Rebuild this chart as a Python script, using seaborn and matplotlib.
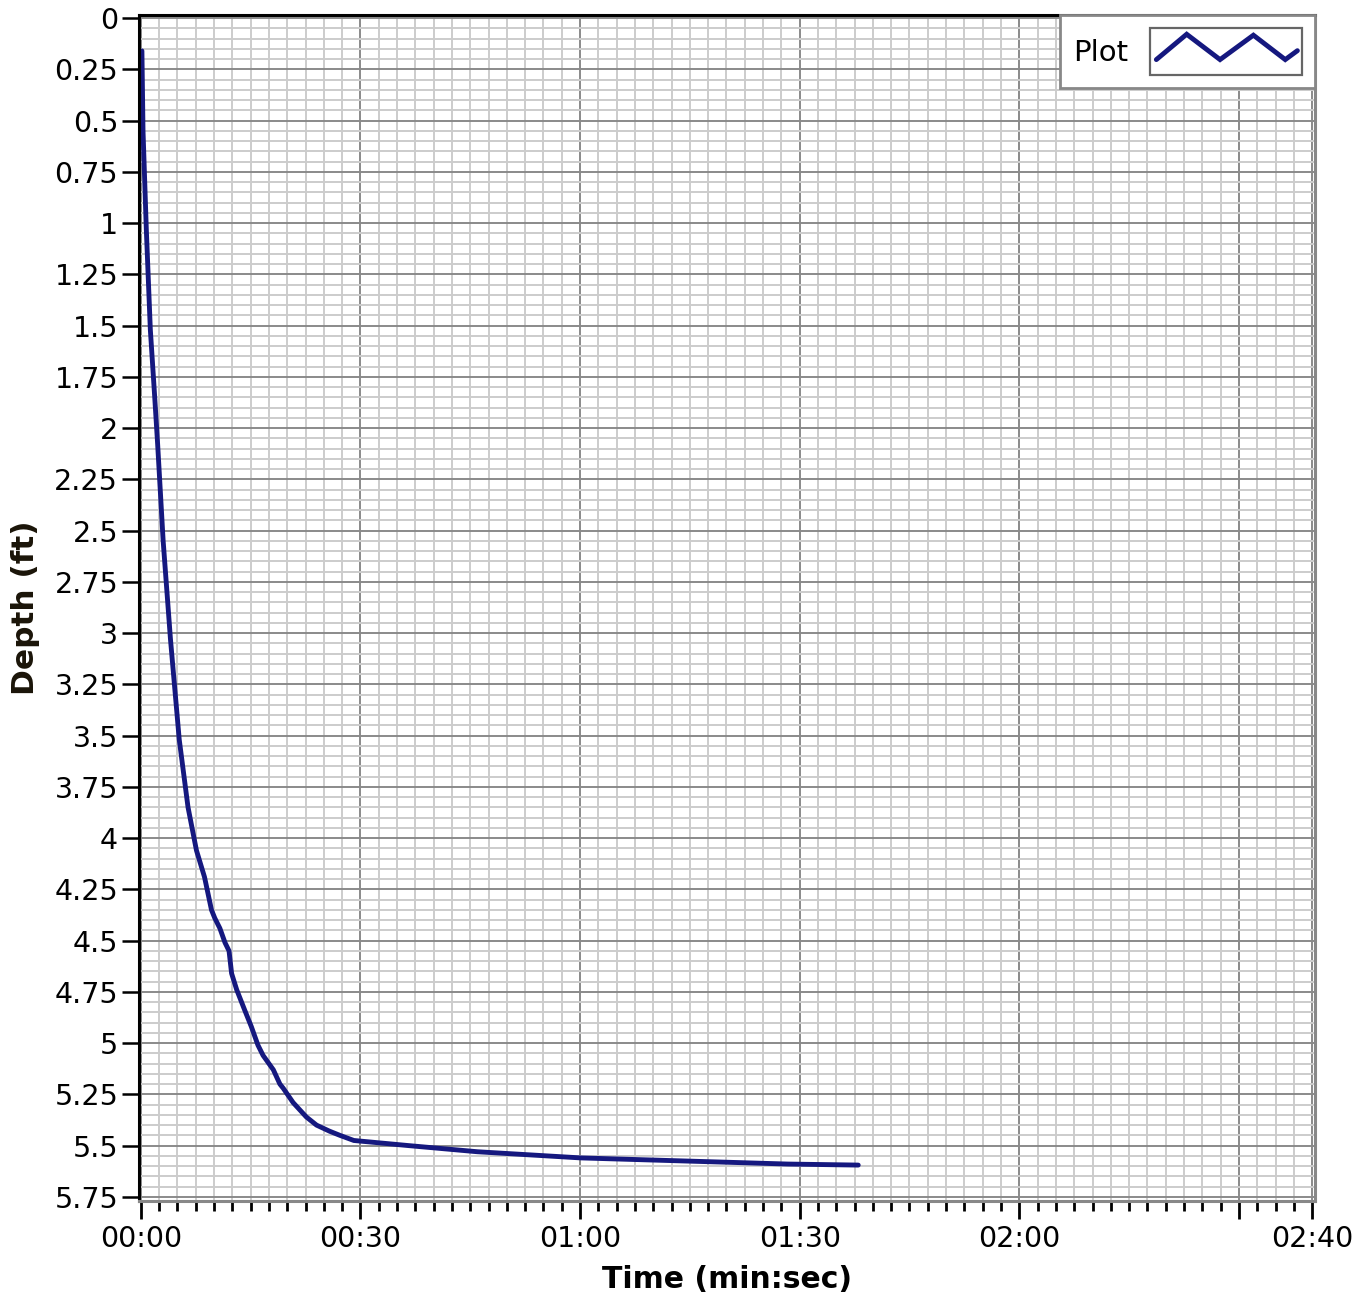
import matplotlib
matplotlib.use("Agg")
import matplotlib.pyplot as plt
import matplotlib.ticker as mticker
from matplotlib.legend_handler import HandlerBase
from matplotlib.lines import Line2D
from matplotlib.patches import Rectangle
import numpy as np
import pandas as pd
import seaborn as sns

# time since start (s) and depth (ft)
time_s = [0.15, 0.3, 0.75, 1.3, 1.9, 2.3, 3.05, 4.05, 5.25, 6.45, 7.6, 8.7,
          9.65, 10.1, 10.8, 11.5, 12.05, 12.4, 13.1, 14.2, 15.1, 16.0, 16.7,
          18.1, 19.0, 19.45, 20.8, 22.6, 24.0, 25.8, 27.2, 29.1, 36.6, 46.0,
          55.4, 60.1, 74.3, 88.4, 98.0]
depth_ft = [0.16, 0.55, 1.03, 1.52, 1.85, 2.08, 2.55, 3.03, 3.52, 3.85, 4.06,
            4.19, 4.35, 4.39, 4.44, 4.51, 4.55, 4.66, 4.74, 4.84, 4.92, 5.01,
            5.06, 5.13, 5.20, 5.22, 5.29, 5.36, 5.40, 5.43, 5.45, 5.475, 5.50,
            5.53, 5.55, 5.56, 5.575, 5.59, 5.595]

x_major = [0, 30, 60, 90, 120, 150, 160]
x_labels = ["00:00", "00:30", "01:00", "01:30", "02:00", "", "02:40"]
y_major = np.arange(0, 5.76, 0.25)

LINE = "#15187f"

df = pd.DataFrame({"Time": time_s, "Depth": depth_ft})


class ZigzagHandler(HandlerBase):
    def create_artists(self, legend, orig_handle, xdescent, ydescent,
                       width, height, fontsize, trans):
        x0, y0 = -xdescent, -ydescent
        frame = Rectangle((x0, y0), width, height, facecolor="white",
                          edgecolor="#666666", lw=1.6, transform=trans)
        fx = np.array([0.04, 0.24, 0.46, 0.68, 0.89, 0.97])
        fy = np.array([0.33, 0.87, 0.33, 0.85, 0.33, 0.52])
        zz = Line2D(x0 + fx * width, y0 + fy * height, color=LINE, lw=3.5,
                    solid_joinstyle="miter", transform=trans)
        return [frame, zz]


sns.set_style("white")
plt.rcParams["font.family"] = ["DejaVu Sans"]
plt.rcParams["text.color"] = "black"
plt.rcParams["axes.labelcolor"] = "black"
plt.rcParams["xtick.color"] = "black"
plt.rcParams["ytick.color"] = "black"

fig = plt.figure(figsize=(13.68, 12.94), dpi=100)
ax = fig.add_axes([0.1016, 0.0719, 0.8597, 0.9165])

sns.lineplot(data=df, x="Time", y="Depth", ax=ax, color=LINE, lw=3.5,
             estimator=None, sort=False, label="Plot")

ax.set_xlim(-0.25, 160.4)
ax.set_ylim(5.77, -0.015)

ax.xaxis.set_major_locator(mticker.FixedLocator(x_major))
ax.xaxis.set_major_formatter(mticker.FixedFormatter(x_labels))
ax.xaxis.set_minor_locator(mticker.MultipleLocator(2.5))
ax.yaxis.set_major_locator(mticker.FixedLocator(y_major))
ax.yaxis.set_major_formatter(mticker.FuncFormatter(lambda v, p: f"{v:g}"))
ax.yaxis.set_minor_locator(mticker.MultipleLocator(0.05))

ax.set_axisbelow(True)
ax.grid(which="minor", color="#cccccc", lw=1.4)
ax.grid(which="major", color="#8a8a8a", lw=1.4)

ax.tick_params(axis="x", which="major", direction="out", length=13, width=2,
               color="black", pad=4, labelsize=20.5, bottom=True)
ax.tick_params(axis="x", which="minor", direction="out", length=7, width=2,
               color="black", bottom=True)
ax.tick_params(axis="y", which="major", direction="out", length=12, width=1.8,
               color="black", pad=3, labelsize=20.5, left=True)
ax.tick_params(axis="y", which="minor", left=False)

for side in ["left", "top"]:
    ax.spines[side].set_color("black")
    ax.spines[side].set_linewidth(2.2)
for side in ["bottom", "right"]:
    ax.spines[side].set_color("#888888")
    ax.spines[side].set_linewidth(2.2)

ax.set_xlabel("Time (min:sec)", fontsize=21.5, fontweight="bold", labelpad=9)
ax.set_ylabel("Depth (ft)", fontsize=22.5, fontweight="bold", labelpad=10,
              color="#1a1408")

handles, labels = ax.get_legend_handles_labels()
leg = ax.legend(handles, labels, loc="upper right", bbox_to_anchor=(1.0, 1.0),
                borderaxespad=0, frameon=True, fancybox=False,
                fontsize=21, markerfirst=False, handlelength=5.2,
                handleheight=2.1, handletextpad=0.75, borderpad=0.45,
                handler_map={handles[0]: ZigzagHandler()})
leg.get_frame().set_edgecolor("#888888")
leg.get_frame().set_linewidth(2)
leg.get_frame().set_alpha(1)

fig.savefig("out.png", dpi=100)
